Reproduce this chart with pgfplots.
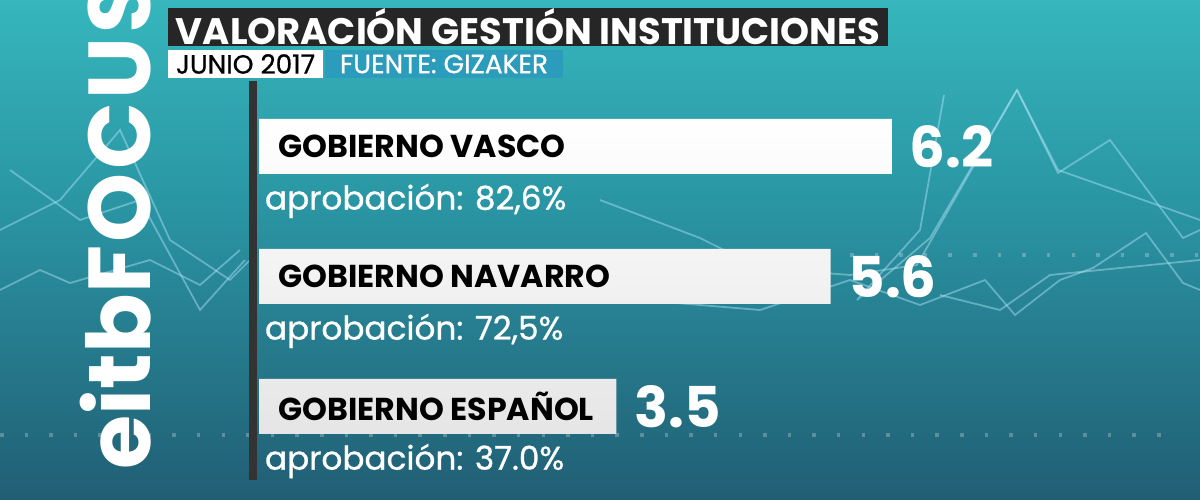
\documentclass[border=0pt]{standalone}
\usepackage{pgfplots}
\pgfplotsset{compat=1.18}
\usepackage{fontspec}
\setmainfont{Poppins}
\newfontfamily\pmed{Poppins}[FakeBold=0.8]
\definecolor{bgtop}{HTML}{3CC6C9}
\definecolor{bgmid}{HTML}{2A96A4}
\definecolor{bglow}{HTML}{215E74}
\definecolor{bgbot}{HTML}{1C465B}
\definecolor{fuente}{HTML}{2B9CBC}
\definecolor{titbg}{HTML}{262626}
\pgfdeclareverticalshading{bg}{100bp}{color(0bp)=(bgbot); color(25bp)=(bglow); color(55bp)=(bgmid); color(85bp)=(bgtop); color(100bp)=(bgtop)}

\begin{document}
\begin{tikzpicture}[x=0.01cm,y=0.01cm]
\path[use as bounding box] (0,0) rectangle (1200,500);
\clip (0,0) rectangle (1200,500);
\shade[shading=bg] (0,0) rectangle (1200,500);

% decorative network lines
\begin{scope}[draw=cyan!30!white, line width=0.5pt, opacity=0.45]
\draw (600,300) -- (700,262) -- (760,232) -- (850,225) -- (917,235) -- (1017,410) -- (1058,327) -- (1110,360) -- (1183,262) -- (1200,270);
\draw (640,200) -- (760,190) -- (850,220) -- (920,195) -- (985,220) -- (1015,185) -- (1060,220) -- (1093,232) -- (1146,267) -- (1183,217) -- (1200,210);
\draw (944,405) -- (920,270) -- (857,200) -- (930,262) -- (1017,410);
\draw (1017,410) -- (1058,330) -- (1200,280);
\draw (940,205) -- (1000,190) -- (1050,225) -- (1200,240);
\draw (0,210) -- (40,230) -- (70,217) -- (150,240) -- (200,215) -- (240,250);
\draw (0,270) -- (60,300) -- (120,370) -- (170,260) -- (230,220) -- (250,240);
\draw (10,330) -- (80,280) -- (140,300) -- (200,190) -- (245,240);
\end{scope}
\foreach \yy/\xa/\xb in {245/850/1200, 65/0/1170}{
  \draw[white, opacity=0.25, line width=1pt, dash pattern=on 1pt off 6pt] (\xa,\yy) -- (\xb,\yy);
}

% logo
\node[white, rotate=90, anchor=south west, inner sep=0pt, font=\bfseries\fontsize{25}{25}\selectfont]
  at (152,30) {eitbF\kern1pt O\kern1pt C\kern1pt U\kern1pt S};

% title
\fill[titbg] (168,454) rectangle (888,492);
\node[white, font=\bfseries\fontsize{10.5}{12}\selectfont, anchor=center] at (528,473) {VALORACIÓN GESTIÓN INSTITUCIONES};
\fill[white] (168,422) rectangle (323,450);
\node[black, font=\pmed\fontsize{7.5}{9}\selectfont, anchor=center] at (245.5,436) {JUNIO 2017};
\fill[fuente] (325,422) rectangle (563,450);
\node[white, font=\pmed\fontsize{7.5}{9}\selectfont, anchor=center] at (444,436) {FUENTE: GIZAKER};

\begin{axis}[
    at={(254,15)}, anchor=south west,
    scale only axis,
    width=9.18cm, height=3.99cm,
    xmin=0, xmax=9,
    ymin=-0.57, ymax=2.5,
    hide axis,
    clip=false,
    xbar,
    bar width=0.55cm,
    nodes near coords={\pgfmathprintnumber[fixed,fixed zerofill,precision=1,assume math mode=true]{\pgfplotspointmeta}},
    nodes near coords style={white, anchor=west, inner sep=0pt, xshift=0.17cm, font=\bfseries\fontsize{16}{16}\selectfont},
]
\draw[line width=0.08cm, black!80] ([xshift=-0.06cm]rel axis cs:0,0) -- ([xshift=-0.06cm]rel axis cs:0,1);
\addplot[draw=none, top color=white, bottom color=black!10] coordinates {(6.2,2) (5.6,1) (3.5,0)};
\node[anchor=west, inner sep=0pt, font=\bfseries\fontsize{9}{10}\selectfont] at (axis cs:0.18,2) {GOBIERNO VASCO};
\node[anchor=west, inner sep=0pt, font=\bfseries\fontsize{9}{10}\selectfont] at (axis cs:0.18,1) {GOBIERNO NAVARRO};
\node[anchor=west, inner sep=0pt, font=\bfseries\fontsize{9}{10}\selectfont] at (axis cs:0.18,0) {GOBIERNO ESPAÑOL};
\node[anchor=west, inner sep=0pt, white, font=\pmed\fontsize{9.3}{10}\selectfont] at (axis cs:0.05,1.58) {aprobación: 82,6\%};
\node[anchor=west, inner sep=0pt, white, font=\pmed\fontsize{9.3}{10}\selectfont] at (axis cs:0.05,0.58) {aprobación: 72,5\%};
\node[anchor=west, inner sep=0pt, white, font=\pmed\fontsize{9.3}{10}\selectfont] at (axis cs:0.05,-0.42) {aprobación: 37.0\%};
\end{axis}
\end{tikzpicture}
\end{document}
